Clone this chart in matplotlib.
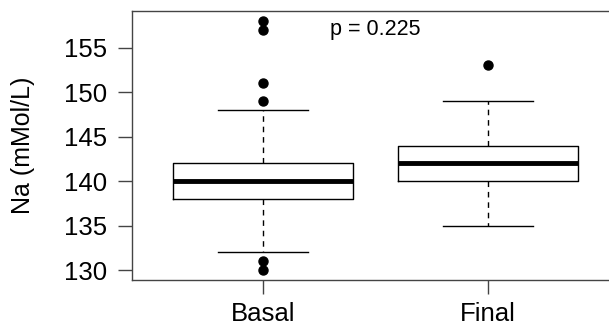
import matplotlib
matplotlib.use("Agg")
import matplotlib.pyplot as plt

plt.rcParams['font.family'] = ['Liberation Sans', 'DejaVu Sans']

# values
groups = ["Basal", "Final"]
q1 = [138, 140]
med = [140, 142]
q3 = [142, 144]
whislo = [132, 135]
whishi = [148, 149]
fliers = [[158, 157, 151, 149, 131, 130], [153]]
p_text = "p = 0.225"

stats = []
for i, g in enumerate(groups):
    stats.append(dict(label=g, q1=q1[i], med=med[i], q3=q3[i],
                      whislo=whislo[i], whishi=whishi[i], fliers=fliers[i]))

fig = plt.figure(figsize=(6.09, 3.24), dpi=100)
# axes runs a bit past the right edge, like the cropped original
ax = fig.add_axes([132/609, 1 - 280/324, (619 - 132)/609, (280 - 11)/324])

ax.bxp(stats, positions=[1, 2], widths=0.8, patch_artist=False,
       boxprops=dict(color="black", linewidth=1),
       medianprops=dict(color="black", linewidth=3.5, solid_capstyle="butt"),
       whiskerprops=dict(color="black", linewidth=1, linestyle=(0, (4, 3.5))),
       capprops=dict(color="black", linewidth=1),
       capwidths=0.4,
       flierprops=dict(marker="o", markerfacecolor="black", markeredgecolor="black",
                       markersize=6.5, linestyle="none"))

ax.set_xlim(0.42, 2.58)
ax.set_ylim(128.88, 159.12)
ax.set_yticks([130, 135, 140, 145, 150, 155])
ax.set_xticks([1, 2])
ax.set_xticklabels(groups)
ax.tick_params(axis="both", labelsize=18.5, length=10, width=1, color="#444444", pad=8)
ax.tick_params(axis="x", pad=6)
ax.set_ylabel("Na (mMol/L)", fontsize=18, labelpad=21)

for s in ax.spines.values():
    s.set_color("#444444")
    s.set_linewidth(1)

ax.text(1.5, 157, p_text, ha="center", va="center", fontsize=15.5)

fig.savefig("out.png", dpi=100)
